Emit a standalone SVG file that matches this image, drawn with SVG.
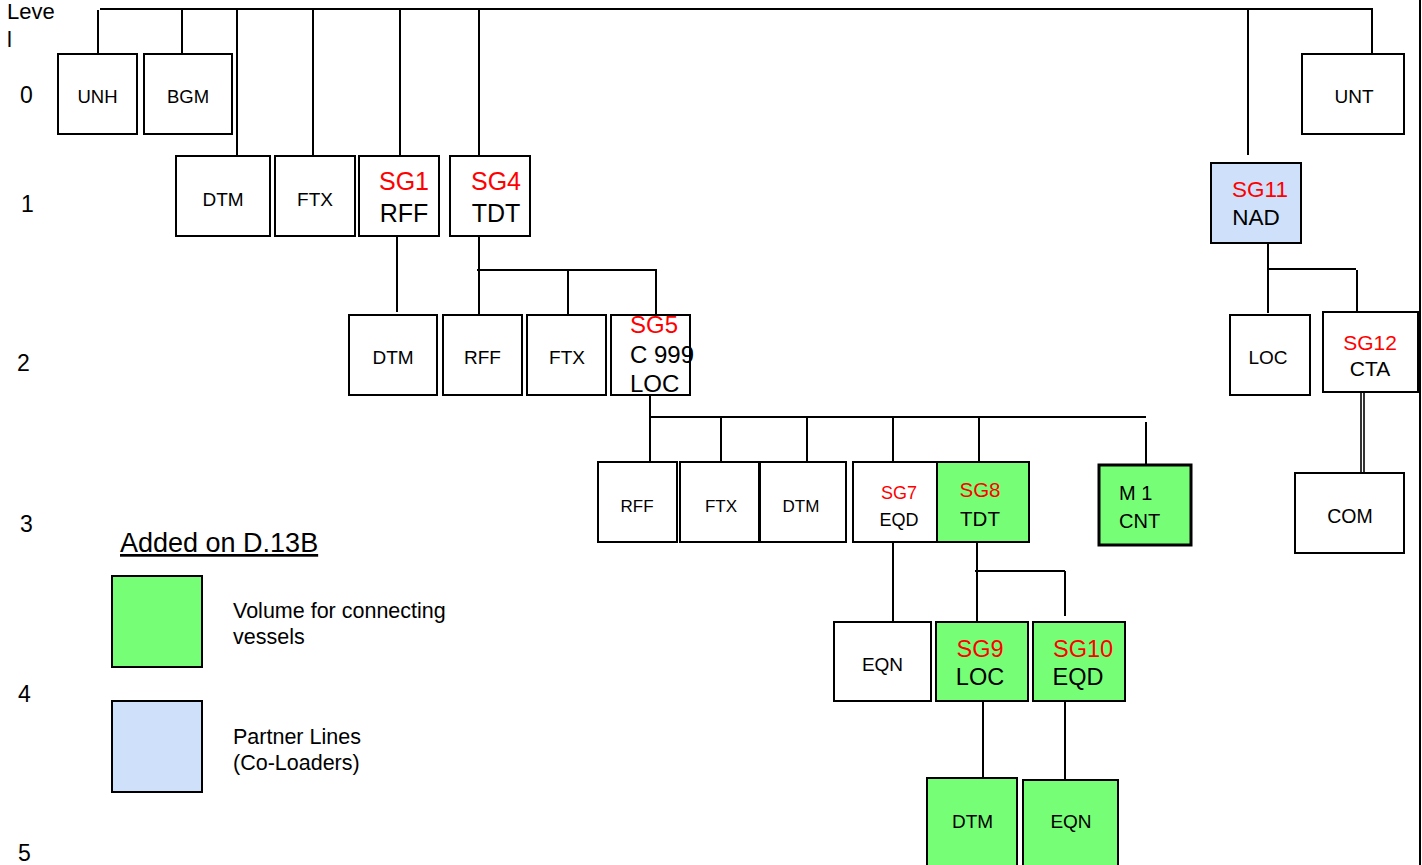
<svg xmlns="http://www.w3.org/2000/svg" width="1422" height="865" viewBox="0 0 1422 865">
<style>
text{font-family:"Liberation Sans",Arial,sans-serif;fill:#000}
.b{fill:#fff;stroke:#000;stroke-width:2}
.g{fill:#76ff76;stroke:#000;stroke-width:2}
.bl{fill:#cfe1fa;stroke:#000;stroke-width:2}
.c line{stroke:#000;stroke-width:2}
.r{fill:#ff0000}
.m{text-anchor:middle}
</style>
<rect x="0" y="0" width="1422" height="865" fill="#fff"/>
<g id="levels" font-size="23">
<text x="7" y="19" font-size="22">Leve</text>
<text x="7" y="47" font-size="22">l</text>
<text x="20" y="103">0</text>
<text x="21" y="212">1</text>
<text x="17" y="371">2</text>
<text x="20" y="532">3</text>
<text x="18" y="702">4</text>
<text x="18" y="861">5</text>
</g>
<g class="c" id="connectors">
<line x1="100" y1="9" x2="1373" y2="9"/>
<line x1="98" y1="10" x2="98" y2="54"/>
<line x1="182" y1="9" x2="182" y2="54"/>
<line x1="237" y1="9" x2="237" y2="156"/>
<line x1="313" y1="9" x2="313" y2="156"/>
<line x1="400" y1="9" x2="400" y2="156"/>
<line x1="479" y1="9" x2="479" y2="156"/>
<line x1="1248" y1="9" x2="1248" y2="155"/>
<line x1="1372" y1="9" x2="1372" y2="54"/>
<line x1="397" y1="236" x2="397" y2="312"/>
<line x1="479" y1="236" x2="479" y2="315"/>
<line x1="477" y1="270" x2="657" y2="270"/>
<line x1="568" y1="270" x2="568" y2="315"/>
<line x1="656" y1="270" x2="656" y2="315"/>
<line x1="650" y1="395" x2="650" y2="462"/>
<line x1="650" y1="417" x2="1146" y2="417"/>
<line x1="721" y1="417" x2="721" y2="462"/>
<line x1="807" y1="417" x2="807" y2="462"/>
<line x1="893" y1="417" x2="893" y2="462"/>
<line x1="979" y1="417" x2="979" y2="462"/>
<line x1="1146" y1="422" x2="1146" y2="464"/>
<line x1="893" y1="542" x2="893" y2="622"/>
<line x1="977" y1="542" x2="977" y2="622"/>
<line x1="975" y1="571" x2="1065" y2="571"/>
<line x1="1065" y1="571" x2="1065" y2="616"/>
<line x1="983" y1="701" x2="983" y2="778"/>
<line x1="1065" y1="701" x2="1065" y2="780"/>
<line x1="1268" y1="243" x2="1268" y2="313"/>
<line x1="1268" y1="269" x2="1356" y2="269"/>
<line x1="1357" y1="270" x2="1357" y2="314"/>
<line x1="1361" y1="392" x2="1361" y2="473" style="stroke-width:1.6"/>
<line x1="1364" y1="392" x2="1364" y2="473" style="stroke-width:1.6"/>
<line x1="1420" y1="0" x2="1420" y2="865"/>
</g>
<g id="UNH"><rect class="b" x="58" y="54" width="79" height="80"/><text class="m" x="97.5" y="103" font-size="18.5">UNH</text></g>
<g id="BGM"><rect class="b" x="144" y="54" width="88" height="80"/><text class="m" x="188" y="103" font-size="18.5">BGM</text></g>
<g id="UNT"><rect class="b" x="1302" y="54" width="102" height="80"/><text class="m" x="1354" y="103" font-size="19">UNT</text></g>
<g id="DTM1"><rect class="b" x="176" y="156" width="94" height="80"/><text class="m" x="223" y="206" font-size="19">DTM</text></g>
<g id="FTX1"><rect class="b" x="275" y="156" width="80" height="80"/><text class="m" x="315" y="206" font-size="19">FTX</text></g>
<g id="SG1"><rect class="b" x="359" y="156" width="80" height="80"/><text class="m r" x="404" y="190" font-size="25">SG1</text><text class="m" x="404" y="222" font-size="25">RFF</text></g>
<g id="SG4"><rect class="b" x="450" y="156" width="80" height="80"/><text class="m r" x="496" y="190" font-size="25">SG4</text><text class="m" x="496" y="222" font-size="25">TDT</text></g>
<g id="SG11"><rect class="bl" x="1211" y="163" width="90" height="80"/><text class="m r" x="1260" y="197" font-size="22.5">SG11</text><text class="m" x="1256" y="225" font-size="22.5">NAD</text></g>
<g id="DTM2"><rect class="b" x="349" y="315" width="88" height="80"/><text class="m" x="393" y="364" font-size="19">DTM</text></g>
<g id="RFF2"><rect class="b" x="443" y="315" width="79" height="80"/><text class="m" x="482.5" y="364" font-size="19">RFF</text></g>
<g id="FTX2"><rect class="b" x="527" y="315" width="79" height="80"/><text class="m" x="567" y="364" font-size="19">FTX</text></g>
<g id="SG5"><rect class="b" x="611" y="315" width="79" height="80"/><text class="r" x="630" y="333" font-size="24">SG5</text><text x="630" y="363" font-size="24">C 999</text><text x="630" y="392" font-size="24">LOC</text></g>
<g id="LOC2"><rect class="b" x="1230" y="315" width="80" height="80"/><text class="m" x="1268" y="364" font-size="19">LOC</text></g>
<g id="SG12"><rect class="b" x="1323" y="312" width="95" height="80"/><text class="m r" x="1370" y="350" font-size="21">SG12</text><text class="m" x="1370" y="376" font-size="21">CTA</text></g>
<g id="RFF3"><rect class="b" x="598" y="462" width="79" height="80"/><text class="m" x="637" y="512" font-size="17">RFF</text></g>
<g id="FTX3"><rect class="b" x="680" y="462" width="79" height="80"/><text class="m" x="721" y="512" font-size="17">FTX</text></g>
<g id="DTM3"><rect class="b" x="760" y="462" width="86" height="80"/><text class="m" x="801" y="512" font-size="17">DTM</text></g>
<g id="SG7"><rect class="b" x="853" y="462" width="84" height="80"/><text class="m r" x="899" y="499" font-size="18">SG7</text><text class="m" x="899" y="526" font-size="18">EQD</text></g>
<g id="SG8"><rect class="g" x="937" y="462" width="92" height="80"/><text class="m r" x="980" y="497" font-size="20.5">SG8</text><text class="m" x="980" y="526" font-size="20.5">TDT</text></g>
<g id="CNT"><rect class="g" x="1099" y="465" width="92" height="80" style="stroke-width:3"/><text x="1119" y="500" font-size="20">M 1</text><text x="1119" y="528" font-size="20">CNT</text></g>
<g id="COM"><rect class="b" x="1295" y="473" width="109" height="80"/><text class="m" x="1350" y="523" font-size="19.5">COM</text></g>
<g id="EQN4"><rect class="b" x="834" y="622" width="97" height="79"/><text class="m" x="882.5" y="671" font-size="19">EQN</text></g>
<g id="SG9"><rect class="g" x="936" y="622" width="92" height="79"/><text class="m r" x="980" y="657" font-size="23.5">SG9</text><text class="m" x="980" y="685" font-size="23.5">LOC</text></g>
<g id="SG10"><rect class="g" x="1033" y="622" width="92" height="79"/><text class="m r" x="1083" y="657" font-size="23.5">SG10</text><text class="m" x="1078" y="685" font-size="23.5">EQD</text></g>
<g id="DTM5"><rect class="g" x="927" y="778" width="90" height="100"/><text class="m" x="972.5" y="828" font-size="19">DTM</text></g>
<g id="EQN5"><rect class="g" x="1023" y="780" width="95" height="100"/><text class="m" x="1071" y="828" font-size="19">EQN</text></g>
<g id="legend">
<text x="120" y="552" font-size="27" text-decoration="underline">Added on D.13B</text>
<rect class="g" x="112" y="576" width="90" height="91"/>
<text x="233" y="618" font-size="21.5">Volume for connecting</text>
<text x="233" y="644" font-size="21.5">vessels</text>
<rect class="bl" x="112" y="701" width="90" height="91"/>
<text x="233" y="744" font-size="21.5">Partner Lines</text>
<text x="233" y="770" font-size="21.5">(Co-Loaders)</text>
</g>
</svg>
